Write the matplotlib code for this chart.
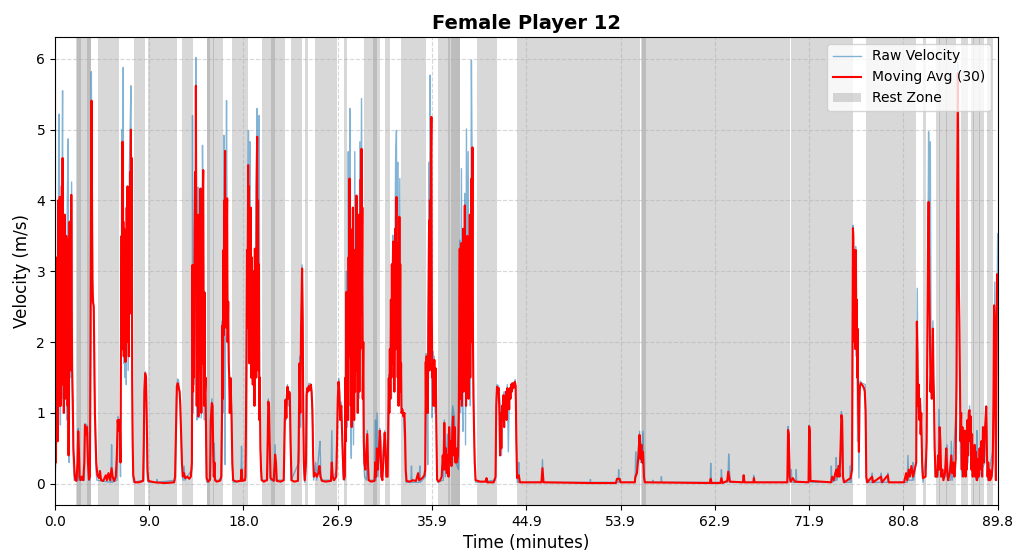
import matplotlib
matplotlib.use("Agg")
import matplotlib.pyplot as plt
import numpy as np

title = "Female Player 12"
session_end = 89.82  # minutes

# (minute, m/s) samples of the 30-sample moving average
moving_avg_points = [
    (0.00, 0.05), (0.05, 0.9), (0.10, 0.3), (0.14, 2.3), (0.18, 1.2), (0.22, 3.2), (0.26, 0.6),
    (0.30, 4.0), (0.34, 1.5), (0.38, 3.6), (0.42, 1.1), (0.46, 4.05), (0.50, 2.0), (0.54, 1.1),
    (0.58, 3.3), (0.62, 1.5), (0.66, 4.2), (0.70, 2.2), (0.73, 4.6), (0.77, 1.4), (0.81, 3.3),
    (0.85, 1.0), (0.89, 2.6), (0.93, 3.8), (0.97, 1.2), (1.01, 2.9), (1.05, 1.5), (1.09, 3.5),
    (1.13, 1.3), (1.17, 3.45), (1.21, 1.1), (1.25, 2.4), (1.30, 0.4), (1.35, 1.8), (1.40, 3.7),
    (1.44, 1.9), (1.48, 3.3), (1.52, 1.6), (1.56, 4.08), (1.60, 2.5), (1.64, 1.63), (1.70, 1.2),
    (1.76, 0.5), (1.81, 0.36), (1.88, 0.12), (1.95, 0.05),
    (2.05, 0.04), (2.15, 0.3), (2.22, 0.74), (2.28, 0.5), (2.35, 0.1), (2.45, 0.05), (2.55, 0.1),
    (2.70, 0.05), (2.80, 0.3), (2.86, 0.83), (2.95, 0.7), (3.05, 0.8), (3.15, 0.3), (3.24, 0.06),
    (3.33, 0.1), (3.40, 2.0), (3.45, 4.5), (3.49, 5.41), (3.53, 4.2), (3.57, 2.9), (3.62, 2.57),
    (3.70, 2.5), (3.76, 1.6), (3.81, 1.0), (3.88, 0.6), (3.94, 0.3), (4.05, 0.12),
    (4.20, 0.08), (4.29, 0.18), (4.40, 0.05), (4.60, 0.04), (4.85, 0.12), (4.95, 0.05), (5.10, 0.15),
    (5.25, 0.05), (5.40, 0.22), (5.50, 0.1), (5.65, 0.04), (5.80, 0.1), (5.90, 0.4), (5.98, 0.9),
    (6.05, 0.75), (6.12, 0.9), (6.19, 0.85),
    (6.25, 0.3), (6.30, 2.2), (6.35, 3.5), (6.40, 1.9), (6.44, 4.83), (6.48, 2.5), (6.52, 3.7),
    (6.56, 1.8), (6.60, 3.6), (6.64, 2.0), (6.68, 3.3), (6.72, 1.72), (6.76, 3.0), (6.80, 2.1),
    (6.84, 3.9), (6.88, 2.3), (6.92, 4.2), (6.96, 2.0), (7.00, 3.3), (7.04, 1.8), (7.08, 3.9),
    (7.12, 2.4), (7.16, 4.4), (7.20, 2.8), (7.24, 5.0), (7.28, 3.0), (7.32, 4.6), (7.36, 1.5),
    (7.41, 0.6), (7.46, 0.12),
    (7.60, 0.02), (8.00, 0.02), (8.40, 0.04), (8.47, 0.6), (8.52, 1.3), (8.60, 1.56), (8.68, 1.5),
    (8.75, 0.9), (8.82, 0.2), (8.90, 0.04), (9.50, 0.02), (10.50, 0.01), (11.35, 0.02),
    (11.45, 0.1), (11.55, 0.9), (11.62, 1.38), (11.70, 1.42), (11.80, 1.35), (11.88, 1.3),
    (11.95, 1.1), (12.02, 0.7), (12.10, 0.3), (12.18, 0.1), (12.30, 0.15), (12.40, 0.08),
    (12.60, 0.1), (12.80, 0.07), (12.95, 0.1),
    (13.05, 0.3), (13.11, 3.09), (13.16, 1.3), (13.20, 2.8), (13.24, 1.5), (13.30, 3.6), (13.35, 4.4),
    (13.40, 3.0), (13.43, 5.62), (13.47, 3.3), (13.51, 1.1), (13.55, 3.8), (13.59, 1.4), (13.63, 3.2),
    (13.67, 0.95), (13.71, 2.9), (13.75, 3.8), (13.79, 1.6), (13.83, 3.4), (13.87, 4.17), (13.91, 2.0),
    (13.95, 1.0), (13.99, 3.1), (14.03, 1.7), (14.08, 4.0), (14.13, 4.43), (14.17, 2.4), (14.22, 1.1),
    (14.26, 2.7), (14.30, 1.3), (14.35, 1.5), (14.40, 0.7), (14.45, 0.08),
    (14.60, 0.03), (14.78, 0.06), (14.85, 0.9), (14.95, 1.14), (15.02, 1.1), (15.08, 0.5),
    (15.14, 0.1), (15.20, 0.3), (15.26, 0.05), (15.40, 0.03), (15.70, 0.04),
    (15.85, 0.1), (15.92, 1.0), (15.97, 2.24), (16.01, 1.2), (16.05, 3.3), (16.09, 2.1), (16.13, 4.0),
    (16.17, 3.1), (16.21, 4.7), (16.25, 2.6), (16.29, 3.9), (16.33, 2.2), (16.37, 3.5), (16.41, 4.03),
    (16.45, 2.0), (16.51, 2.57), (16.56, 1.7), (16.60, 1.54), (16.66, 1.0), (16.73, 1.49),
    (16.78, 1.2), (16.83, 0.93), (16.90, 0.3), (16.98, 0.05),
    (17.30, 0.03), (17.70, 0.04), (17.78, 0.2), (17.86, 0.04), (18.10, 0.05),
    (18.15, 0.1), (18.20, 0.8), (18.25, 1.9), (18.30, 3.3), (18.35, 2.2), (18.41, 4.5), (18.45, 2.9),
    (18.49, 4.2), (18.53, 1.7), (18.57, 3.6), (18.61, 2.1), (18.65, 3.9), (18.69, 1.5), (18.73, 3.2),
    (18.77, 2.0), (18.81, 2.8), (18.85, 1.4), (18.89, 3.0), (18.93, 1.8), (18.97, 2.5), (19.01, 1.1),
    (19.05, 3.32), (19.09, 2.0), (19.14, 3.0), (19.18, 1.5), (19.22, 4.2), (19.27, 4.9), (19.31, 2.5),
    (19.35, 4.0), (19.39, 1.6), (19.43, 3.1), (19.47, 0.9), (19.52, 1.5), (19.58, 0.5), (19.64, 0.2),
    (19.70, 0.05),
    (19.90, 0.03), (20.20, 0.05), (20.27, 0.6), (20.33, 1.16), (20.40, 1.1), (20.46, 0.6),
    (20.54, 0.08), (20.85, 0.04), (20.98, 0.41), (21.06, 0.3), (21.14, 0.04), (21.50, 0.03),
    (21.80, 0.05), (21.88, 0.7), (21.94, 1.18), (22.00, 1.1), (22.05, 0.93), (22.10, 1.25),
    (22.16, 1.37), (22.22, 1.2), (22.30, 1.3), (22.38, 1.28), (22.45, 0.6), (22.54, 0.05),
    (22.80, 0.03), (23.15, 0.04), (23.22, 0.5), (23.30, 1.7), (23.38, 1.0), (23.45, 2.2),
    (23.55, 3.04), (23.61, 2.3), (23.66, 1.0), (23.72, 0.3), (23.80, 0.05),
    (23.92, 0.3), (23.98, 1.25), (24.05, 1.35), (24.12, 1.3), (24.20, 1.38), (24.28, 1.32),
    (24.38, 1.4), (24.46, 1.3), (24.54, 1.0), (24.60, 0.4), (24.67, 0.1),
    (24.80, 0.15), (24.95, 0.1), (25.10, 0.15), (25.20, 0.25), (25.30, 0.1), (25.45, 0.04),
    (25.80, 0.03), (26.30, 0.04), (26.38, 0.3), (26.46, 0.1), (26.60, 0.05),
    (26.80, 0.1), (26.88, 0.6), (26.95, 1.2), (27.02, 1.44), (27.10, 1.3), (27.18, 0.9),
    (27.28, 1.1), (27.36, 0.7), (27.45, 0.3), (27.52, 0.06),
    (27.62, 0.1), (27.68, 1.5), (27.73, 0.6), (27.78, 2.71), (27.83, 1.2), (27.88, 2.4), (27.93, 0.9),
    (27.98, 3.2), (28.03, 2.0), (28.07, 4.31), (28.11, 1.8), (28.15, 3.6), (28.19, 1.1), (28.23, 3.0),
    (28.27, 0.8), (28.31, 2.2), (28.35, 1.5), (28.39, 3.9), (28.43, 1.4), (28.47, 2.6), (28.51, 0.9),
    (28.56, 3.3), (28.60, 1.3), (28.64, 2.8), (28.68, 1.6), (28.73, 4.07), (28.77, 2.1), (28.81, 3.5),
    (28.85, 1.0), (28.89, 2.3), (28.93, 1.6), (28.97, 3.8), (29.01, 1.3), (29.05, 3.0), (29.09, 1.9),
    (29.13, 4.3), (29.17, 2.4), (29.21, 4.73), (29.25, 2.8), (29.29, 3.9), (29.33, 1.2), (29.38, 2.0),
    (29.43, 0.6), (29.48, 0.3), (29.58, 0.2), (29.70, 0.55), (29.76, 0.7), (29.82, 0.3), (29.90, 0.05),
    (30.10, 0.03), (30.45, 0.04), (30.52, 0.3), (30.60, 0.1), (30.68, 0.5), (30.75, 0.2),
    (30.85, 0.4), (30.95, 0.75), (31.02, 0.6), (31.10, 0.1), (31.20, 0.05), (31.32, 0.4),
    (31.42, 0.72), (31.50, 0.5), (31.58, 0.1),
    (31.70, 0.1), (31.76, 0.9), (31.81, 1.49), (31.86, 1.0), (31.91, 1.9), (31.96, 1.2), (32.01, 2.6),
    (32.06, 1.5), (32.10, 3.1), (32.14, 1.7), (32.18, 2.9), (32.22, 3.42), (32.26, 1.8), (32.30, 3.0),
    (32.34, 1.3), (32.38, 2.4), (32.42, 3.6), (32.46, 1.9), (32.50, 3.3), (32.54, 4.05), (32.58, 2.2),
    (32.62, 3.4), (32.66, 1.5), (32.70, 2.8), (32.74, 1.1), (32.78, 2.5), (32.82, 3.77), (32.86, 2.0),
    (32.90, 3.1), (32.94, 1.3), (32.98, 1.7), (33.02, 1.0), (33.10, 1.05), (33.20, 0.95),
    (33.30, 1.0), (33.36, 0.7), (33.42, 0.2), (33.50, 0.04),
    (33.80, 0.03), (34.10, 0.05), (34.40, 0.04), (34.60, 0.15), (34.70, 0.05), (35.00, 0.08),
    (35.20, 0.12),
    (35.28, 0.2), (35.33, 1.72), (35.37, 1.0), (35.41, 1.8), (35.45, 1.4), (35.49, 1.65), (35.53, 1.0),
    (35.57, 2.2), (35.61, 3.0), (35.65, 3.72), (35.69, 1.6), (35.73, 4.0), (35.77, 3.0), (35.82, 4.6),
    (35.87, 5.18), (35.91, 2.4), (35.95, 1.5), (35.99, 1.7), (36.03, 1.1), (36.07, 1.6), (36.11, 1.3),
    (36.15, 1.75), (36.19, 1.1), (36.24, 1.4), (36.29, 1.63), (36.34, 0.8), (36.41, 0.06),
    (36.55, 0.03), (36.70, 0.05), (36.85, 0.1), (36.95, 0.4), (37.02, 0.2), (37.10, 0.86),
    (37.18, 0.2), (37.26, 0.5), (37.34, 0.15), (37.42, 0.4), (37.50, 0.1), (37.56, 0.8),
    (37.62, 0.3), (37.70, 0.6), (37.78, 0.25), (37.86, 0.7), (37.94, 0.95), (38.00, 0.4),
    (38.08, 0.8), (38.16, 0.3), (38.22, 0.5),
    (38.30, 0.3), (38.40, 0.4), (38.48, 1.0), (38.53, 2.2), (38.57, 3.32), (38.61, 1.2), (38.65, 3.0),
    (38.69, 1.5), (38.73, 3.4), (38.77, 1.1), (38.81, 2.7), (38.85, 1.8), (38.89, 3.6), (38.93, 1.3),
    (38.97, 2.9), (39.01, 1.6), (39.05, 3.93), (39.09, 1.4), (39.13, 3.2), (39.17, 1.1), (39.21, 2.6),
    (39.25, 1.5), (39.29, 3.5), (39.33, 1.9), (39.37, 3.0), (39.41, 1.2), (39.45, 2.4), (39.49, 1.6),
    (39.53, 3.8), (39.57, 1.5), (39.61, 3.1), (39.65, 2.0), (39.69, 4.31), (39.73, 2.5), (39.78, 4.75),
    (39.83, 2.0), (39.88, 1.2), (39.94, 0.7), (40.00, 0.3), (40.08, 0.05),
    (40.50, 0.03), (41.05, 0.03), (41.12, 0.08), (41.20, 0.02), (41.80, 0.02),
    (41.98, 0.1), (42.05, 1.1), (42.12, 1.37), (42.20, 1.3), (42.28, 1.35), (42.35, 1.0), (42.41, 0.4),
    (42.47, 1.0), (42.53, 0.5), (42.60, 1.1), (42.67, 0.9), (42.74, 1.25), (42.80, 0.8), (42.86, 1.2),
    (42.92, 1.0), (42.98, 1.3), (43.04, 0.9), (43.10, 1.35), (43.16, 1.15), (43.22, 1.3), (43.28, 1.05),
    (43.34, 1.35), (43.40, 1.2), (43.47, 1.4), (43.54, 1.3), (43.60, 1.42), (43.67, 1.35), (43.74, 1.4),
    (43.82, 1.44), (43.90, 1.38), (43.96, 0.6), (44.03, 0.08),
    (44.20, 0.12), (44.30, 0.02), (46.35, 0.02), (46.45, 0.22), (46.55, 0.02), (51.00, 0.01),
    (53.45, 0.01), (53.55, 0.07), (53.80, 0.07), (53.90, 0.02), (55.25, 0.02),
    (55.30, 0.1), (55.45, 0.15), (55.60, 0.4), (55.70, 0.69), (55.78, 0.35), (55.88, 0.55),
    (55.96, 0.3), (56.03, 0.45), (56.12, 0.1), (56.20, 0.02),
    (62.40, 0.01), (62.48, 0.07), (62.56, 0.01), (63.40, 0.01), (63.50, 0.08), (63.60, 0.01),
    (64.05, 0.04), (64.15, 0.17), (64.22, 0.1), (64.30, 0.03), (65.55, 0.02), (65.62, 0.12),
    (65.70, 0.02), (66.55, 0.02), (66.60, 0.08), (66.66, 0.02),
    (69.78, 0.02), (69.85, 0.76), (69.92, 0.7), (70.00, 0.1), (70.10, 0.03), (70.30, 0.08),
    (70.50, 0.03), (71.80, 0.02), (71.86, 0.81), (71.92, 0.75), (71.98, 0.04),
    (73.95, 0.02), (74.05, 0.1), (74.20, 0.05), (74.35, 0.15), (74.45, 0.2), (74.55, 0.1),
    (74.65, 0.25), (74.75, 0.1), (74.85, 0.5), (74.93, 0.97), (75.00, 0.9), (75.08, 0.1),
    (75.20, 0.02), (75.80, 0.08),
    (75.95, 0.2), (76.00, 2.5), (76.03, 3.61), (76.07, 3.5), (76.11, 2.6), (76.15, 3.3), (76.19, 2.0),
    (76.23, 3.2), (76.27, 1.9), (76.31, 3.3), (76.35, 2.2), (76.39, 2.6), (76.43, 1.5), (76.47, 2.19),
    (76.52, 1.2), (76.56, 0.8), (76.60, 0.45), (76.65, 1.2), (76.70, 1.38), (76.78, 1.42),
    (76.88, 1.4), (76.98, 1.38), (77.08, 1.35), (77.16, 1.3), (77.24, 1.0), (77.30, 0.1),
    (77.40, 0.02), (77.85, 0.1), (77.95, 0.02), (78.70, 0.1), (78.80, 0.02), (79.35, 0.12),
    (79.45, 0.02), (80.90, 0.02), (81.10, 0.15), (81.20, 0.05), (81.35, 0.2), (81.45, 0.1),
    (81.60, 0.25), (81.75, 0.1), (81.90, 0.2),
    (82.06, 0.3), (82.12, 2.29), (82.18, 1.8), (82.24, 1.1), (82.30, 1.4), (82.36, 0.9), (82.42, 1.2),
    (82.48, 0.7), (82.54, 1.0), (82.62, 0.3), (82.70, 0.08),
    (82.95, 0.1), (83.05, 0.6), (83.12, 2.0), (83.18, 3.3), (83.24, 3.98), (83.30, 3.0), (83.36, 2.2),
    (83.42, 1.3), (83.49, 1.63), (83.55, 1.2), (83.60, 1.8), (83.65, 2.19), (83.70, 1.5),
    (83.75, 1.25), (83.82, 0.5), (83.90, 0.1),
    (84.05, 0.1), (84.15, 0.4), (84.22, 0.2), (84.29, 0.8), (84.36, 0.6), (84.44, 0.1), (84.55, 0.2),
    (84.65, 0.05), (84.80, 0.15), (84.92, 0.5), (85.00, 0.2), (85.10, 0.05), (85.25, 0.15),
    (85.40, 0.4), (85.48, 0.15), (85.60, 0.3), (85.70, 0.1), (85.82, 0.35),
    (85.90, 1.5), (85.96, 4.0), (86.02, 5.8), (86.07, 4.5), (86.12, 2.8), (86.17, 2.29), (86.22, 1.5),
    (86.28, 0.6), (86.34, 1.0), (86.40, 0.2), (86.46, 0.8), (86.52, 0.1), (86.58, 0.6), (86.64, 0.3),
    (86.70, 0.75), (86.76, 0.1), (86.82, 0.5), (86.88, 0.2), (86.94, 0.9), (87.00, 0.4), (87.06, 1.0),
    (87.14, 1.04), (87.20, 0.6), (87.26, 0.95), (87.32, 0.2), (87.38, 0.7), (87.44, 0.1), (87.50, 0.5),
    (87.56, 0.2), (87.62, 0.55), (87.68, 0.1), (87.76, 0.45), (87.84, 0.05), (87.92, 0.35),
    (88.00, 0.1), (88.10, 0.5), (88.18, 0.2), (88.26, 0.6), (88.34, 0.1), (88.42, 0.8), (88.50, 0.3),
    (88.58, 0.7), (88.66, 0.9), (88.73, 1.09), (88.80, 0.4), (88.86, 0.1), (88.92, 0.3), (88.98, 0.05),
    (89.04, 0.2), (89.10, 0.05), (89.25, 0.1), (89.35, 0.3), (89.42, 1.2), (89.48, 2.52),
    (89.55, 2.3), (89.60, 1.0), (89.65, 0.05), (89.70, 1.5), (89.76, 2.96), (89.82, 2.9),
]

# (minute, m/s) samples of the raw velocity trace
raw_points = [
    (0.00, 0.02), (0.08, 0.36), (0.12, 2.6), (0.18, 0.8), (0.24, 3.0), (0.30, 1.0), (0.36, 5.2),
    (0.41, 5.22), (0.46, 2.2), (0.52, 0.83), (0.58, 3.4), (0.64, 2.0), (0.69, 4.4), (0.73, 5.55),
    (0.78, 1.2), (0.84, 3.0), (0.90, 1.0), (0.95, 3.65), (1.00, 1.3), (1.06, 3.4), (1.12, 0.9),
    (1.18, 4.0), (1.27, 4.87), (1.31, 1.0), (1.36, 0.3), (1.42, 3.5), (1.48, 1.5), (1.54, 3.0),
    (1.59, 4.26), (1.64, 1.4), (1.70, 0.8), (1.76, 0.3), (1.84, 0.05),
    (2.16, 0.05), (2.22, 0.78), (2.28, 0.05), (2.80, 0.05), (2.86, 0.85), (3.10, 0.82), (3.22, 0.05),
    (3.33, 0.05), (3.42, 3.0), (3.47, 5.82), (3.53, 4.0), (3.62, 2.7), (3.68, 2.6), (3.76, 1.4),
    (3.82, 0.9), (3.90, 0.2), (4.00, 0.05),
    (5.34, 0.02), (5.40, 0.55), (5.46, 0.02), (5.92, 0.05), (6.00, 0.95), (6.15, 0.9),
    (6.25, 0.1), (6.32, 2.4), (6.38, 5.0), (6.44, 4.5), (6.51, 5.88), (6.56, 1.7), (6.62, 3.3),
    (6.68, 1.5), (6.74, 3.2), (6.80, 1.4), (6.86, 3.8), (6.92, 4.2), (6.98, 1.6), (7.04, 3.0),
    (7.10, 4.5), (7.17, 5.0), (7.24, 5.62), (7.30, 2.5), (7.36, 1.0), (7.42, 0.2), (7.48, 0.02),
    (8.45, 0.05), (8.55, 1.5), (8.62, 1.58), (8.70, 1.4), (8.80, 0.1), (8.90, 0.02),
    (9.68, 0.02), (9.72, 0.06), (9.76, 0.02),
    (11.45, 0.05), (11.58, 1.2), (11.68, 1.48), (11.78, 1.46), (11.90, 1.25), (12.05, 0.5),
    (12.20, 0.05), (12.30, 0.25), (12.40, 0.05),
    (13.05, 0.2), (13.09, 2.5), (13.11, 5.2), (13.15, 1.0), (13.22, 3.0), (13.28, 1.4), (13.35, 4.0),
    (13.40, 3.0), (13.43, 6.02), (13.48, 2.0), (13.53, 0.9), (13.58, 3.5), (13.62, 1.2),
    (13.65, 4.19), (13.70, 0.93), (13.76, 3.3), (13.82, 1.5), (13.88, 4.0), (13.94, 0.93),
    (14.00, 3.0), (14.06, 4.78), (14.12, 3.8), (14.18, 1.8), (14.24, 0.9), (14.30, 1.7),
    (14.38, 0.5), (14.45, 0.02),
    (14.80, 0.05), (14.85, 0.9), (14.95, 1.2), (15.08, 0.3), (15.18, 0.57), (15.25, 0.05),
    (15.85, 0.05), (15.95, 2.3), (16.02, 1.0), (16.10, 4.92), (16.16, 2.0), (16.22, 0.27),
    (16.28, 3.5), (16.35, 5.41), (16.42, 3.0), (16.50, 2.2), (16.58, 1.8), (16.66, 1.2),
    (16.75, 1.5), (16.84, 0.9), (16.92, 0.2), (17.00, 0.02),
    (17.72, 0.05), (17.78, 0.53), (17.84, 0.05),
    (18.15, 0.05), (18.22, 0.8), (18.30, 2.5), (18.38, 4.0), (18.44, 4.99), (18.50, 2.5),
    (18.57, 4.83), (18.63, 2.0), (18.70, 3.5), (18.78, 1.6), (18.86, 3.0), (18.94, 1.5),
    (19.00, 2.7), (19.06, 1.2), (19.12, 3.3), (19.20, 4.6), (19.27, 5.3), (19.33, 3.0),
    (19.40, 4.5), (19.46, 5.2), (19.52, 1.0), (19.60, 0.4), (19.68, 0.05),
    (20.25, 0.05), (20.33, 1.2), (20.45, 0.5), (20.55, 0.05), (20.90, 0.05), (20.98, 0.55),
    (21.06, 0.05), (21.80, 0.05), (21.88, 0.9), (21.95, 1.2), (22.05, 0.9), (22.15, 1.4),
    (22.25, 1.1), (22.38, 1.3), (22.50, 0.05),
    (23.25, 0.3), (23.32, 1.8), (23.40, 0.8), (23.55, 3.09), (23.62, 2.0), (23.70, 0.2),
    (23.80, 0.02), (23.95, 0.3), (24.00, 1.3), (24.20, 1.42), (24.40, 1.4), (24.55, 0.8),
    (24.65, 0.05), (24.85, 0.3), (24.95, 0.05), (25.15, 0.45), (25.25, 0.6), (25.35, 0.05),
    (26.30, 0.05), (26.38, 0.75), (26.45, 0.05),
    (26.85, 0.2), (26.95, 1.3), (27.05, 1.49), (27.15, 1.1), (27.30, 1.15), (27.45, 0.1),
    (27.62, 0.05), (27.70, 1.8), (27.78, 3.0), (27.86, 0.8), (27.95, 4.69), (28.02, 2.0),
    (28.10, 5.3), (28.16, 1.0), (28.24, 0.36), (28.30, 2.5), (28.38, 3.5), (28.45, 0.55),
    (28.52, 3.0), (28.57, 4.69), (28.64, 1.5), (28.72, 3.8), (28.80, 1.9), (28.88, 3.0),
    (28.95, 1.2), (29.05, 4.83), (29.12, 2.5), (29.21, 5.44), (29.28, 3.0), (29.35, 1.4),
    (29.43, 0.3), (29.50, 0.1), (29.68, 0.05), (29.76, 0.75), (29.84, 0.05),
    (30.48, 0.05), (30.54, 0.9), (30.60, 0.05), (30.70, 1.0), (30.78, 0.1), (30.95, 0.78),
    (31.05, 0.1), (31.42, 0.75), (31.55, 0.1),
    (31.76, 0.5), (31.82, 1.54), (31.90, 1.0), (31.98, 1.6), (32.06, 1.2), (32.14, 2.5),
    (32.22, 3.51), (32.30, 1.6), (32.38, 3.0), (32.46, 4.6), (32.54, 4.99), (32.60, 1.9),
    (32.66, 4.54), (32.72, 1.2), (32.80, 3.0), (32.86, 4.31), (32.94, 1.5), (33.02, 1.05),
    (33.20, 1.0), (33.36, 0.5), (33.46, 0.02),
    (33.92, 0.02), (33.97, 0.25), (34.02, 0.02), (34.70, 0.02), (34.76, 0.25), (34.82, 0.02),
    (35.30, 0.1), (35.38, 1.84), (35.46, 1.6), (35.52, 0.27), (35.58, 2.5), (35.65, 4.54),
    (35.70, 1.8), (35.75, 5.77), (35.82, 4.0), (35.88, 1.6), (35.94, 0.93), (36.00, 1.87),
    (36.06, 1.2), (36.14, 1.8), (36.22, 1.0), (36.30, 1.6), (36.38, 0.3), (36.45, 0.02),
    (37.00, 0.05), (37.10, 0.9), (37.20, 0.1), (37.40, 0.7), (37.50, 0.1), (37.90, 1.1),
    (38.05, 0.95), (38.20, 0.3),
    (38.45, 0.2), (38.52, 2.0), (38.57, 3.44), (38.63, 1.0), (38.73, 4.45), (38.80, 1.2),
    (38.87, 0.74), (38.94, 3.2), (39.00, 1.5), (39.05, 4.1), (39.12, 0.55), (39.21, 5.01),
    (39.28, 1.6), (39.37, 4.69), (39.43, 1.25), (39.50, 3.0), (39.58, 1.1), (39.68, 5.98),
    (39.75, 4.5), (39.82, 2.0), (39.90, 1.0), (39.98, 0.3), (40.08, 0.02),
    (41.98, 0.05), (42.05, 1.2), (42.12, 1.4), (42.28, 1.38), (42.42, 1.1), (42.55, 0.4),
    (42.65, 1.2), (42.80, 1.3), (42.95, 1.0), (43.10, 1.4), (43.20, 0.45), (43.30, 1.3),
    (43.50, 1.42), (43.70, 1.4), (43.85, 1.47), (43.95, 0.8), (44.05, 0.02),
    (44.14, 0.02), (44.19, 0.3), (44.25, 0.02), (46.38, 0.02), (46.45, 0.34), (46.52, 0.02),
    (50.98, 0.02), (51.02, 0.06), (51.06, 0.02), (53.66, 0.02), (53.71, 0.2), (53.76, 0.02),
    (55.28, 0.02), (55.33, 0.45), (55.40, 0.1), (55.71, 0.74), (55.80, 0.3), (56.03, 0.74),
    (56.12, 0.1), (56.20, 0.02), (56.94, 0.02), (56.98, 0.05), (57.02, 0.02),
    (57.74, 0.02), (57.78, 0.1), (57.82, 0.02), (62.44, 0.02), (62.48, 0.29), (62.52, 0.02),
    (63.46, 0.02), (63.50, 0.2), (63.55, 0.02), (64.12, 0.02), (64.19, 0.42), (64.26, 0.2),
    (64.34, 0.02), (65.56, 0.02), (65.60, 0.12), (65.64, 0.02), (66.53, 0.02), (66.57, 0.12),
    (66.61, 0.02),
    (69.80, 0.02), (69.85, 0.81), (69.95, 0.6), (70.05, 0.02), (70.16, 0.2), (70.22, 0.02),
    (70.59, 0.02), (70.63, 0.2), (70.67, 0.02), (71.82, 0.02), (71.86, 0.83), (71.94, 0.7),
    (72.00, 0.02), (73.93, 0.02), (73.97, 0.25), (74.02, 0.02), (74.40, 0.05), (74.44, 0.37),
    (74.50, 0.05), (74.88, 0.3), (74.93, 1.02), (75.02, 0.9), (75.10, 0.02), (75.74, 0.02),
    (75.78, 0.25), (75.84, 0.02),
    (75.97, 1.0), (76.03, 3.65), (76.10, 3.0), (76.19, 3.1), (76.29, 3.35), (76.35, 1.8),
    (76.41, 2.1), (76.47, 0.6), (76.53, 1.0), (76.60, 0.08), (76.70, 1.45), (76.90, 1.42),
    (77.20, 1.4), (77.30, 0.02),
    (77.83, 0.02), (77.87, 0.15), (77.92, 0.02), (78.69, 0.02), (78.73, 0.15), (78.78, 0.02),
    (79.32, 0.02), (79.36, 0.15), (79.40, 0.02),
    (81.20, 0.02), (81.27, 0.4), (81.34, 0.05), (81.70, 0.05), (81.75, 0.3), (81.82, 0.05),
    (82.06, 0.3), (82.16, 2.76), (82.24, 1.0), (82.38, 1.2), (82.50, 1.1), (82.62, 0.2),
    (82.70, 0.02), (83.05, 0.5), (83.15, 2.5), (83.24, 4.97), (83.30, 3.0), (83.40, 4.83),
    (83.49, 1.2), (83.65, 2.3), (83.75, 1.0), (83.85, 0.1),
    (84.15, 0.1), (84.22, 1.05), (84.30, 0.2), (84.90, 0.1), (85.00, 0.55), (85.10, 0.05),
    (85.35, 0.05), (85.40, 0.6), (85.50, 0.05), (85.90, 1.2), (86.02, 5.95), (86.10, 3.0),
    (86.17, 2.43), (86.26, 0.5), (86.40, 0.1), (87.00, 0.3), (87.14, 1.1), (87.26, 0.3),
    (87.78, 0.05), (87.84, 0.75), (87.90, 0.05), (88.60, 0.3), (88.73, 1.1), (88.85, 0.05),
    (89.40, 0.5), (89.55, 2.85), (89.62, 1.0), (89.70, 1.6), (89.82, 3.53),
]

# rest periods (start minute, end minute); overlapping spans render darker
rest_zones = [
    (2.00, 3.43), (2.08, 2.48), (3.08, 3.43), (4.12, 6.12), (7.52, 8.57), (8.89, 11.59),
    (12.07, 13.17), (14.45, 16.03), (14.50, 14.80), (15.08, 15.20), (16.83, 18.35),
    (19.69, 21.90), (20.57, 21.00), (22.45, 23.50), (23.81, 24.12), (24.76, 26.92),
    (27.55, 27.87), (29.45, 30.95), (30.30, 30.70), (31.43, 31.90), (33.02, 35.40),
    (36.50, 38.57), (37.46, 37.62), (37.78, 38.57), (40.26, 42.12), (44.03, 55.77),
    (55.85, 56.27), (55.90, 70.05), (70.12, 76.05), (77.30, 82.05), (82.70, 83.00),
    (83.90, 85.85), (84.20, 84.35), (84.90, 85.00), (86.30, 87.00), (87.30, 88.55),
    (87.50, 87.60), (88.00, 88.10), (88.85, 89.35),
]

fig = plt.figure(figsize=(10.17, 5.51), dpi=100)
ax = fig.add_axes([0.054, 0.0835, 0.927, 0.8495])

for i, (start, end) in enumerate(rest_zones):
    ax.axvspan(start, end, color="gray", alpha=0.3, lw=0,
               label="Rest Zone" if i == 0 else None)

raw_t, raw_v = zip(*raw_points)
ma_t, ma_v = zip(*moving_avg_points)
ax.plot(raw_t, raw_v, color="#1f77b4", alpha=0.55, lw=1.0, label="Raw Velocity")
ax.plot(ma_t, ma_v, color="red", lw=1.5, label="Moving Avg (30)")

ax.set_xlim(0, session_end)
ax.set_ylim(-0.30, 6.31)
ticks = np.linspace(0, session_end, 11)
ax.set_xticks(ticks)
ax.set_xticklabels([f"{t:.1f}" for t in ticks])
ax.set_yticks(range(0, 7))
ax.tick_params(labelsize=10)
ax.grid(True, linestyle="--", alpha=0.5)

ax.set_title(title, fontsize=14, fontweight="bold")
ax.set_xlabel("Time (minutes)", fontsize=12)
ax.set_ylabel("Velocity (m/s)", fontsize=12)

handles, labels = ax.get_legend_handles_labels()
order = [labels.index(n) for n in ("Raw Velocity", "Moving Avg (30)", "Rest Zone")]
ax.legend([handles[i] for i in order], [labels[i] for i in order],
          loc="upper right", fontsize=10)

fig.savefig("out.png", dpi=100)
